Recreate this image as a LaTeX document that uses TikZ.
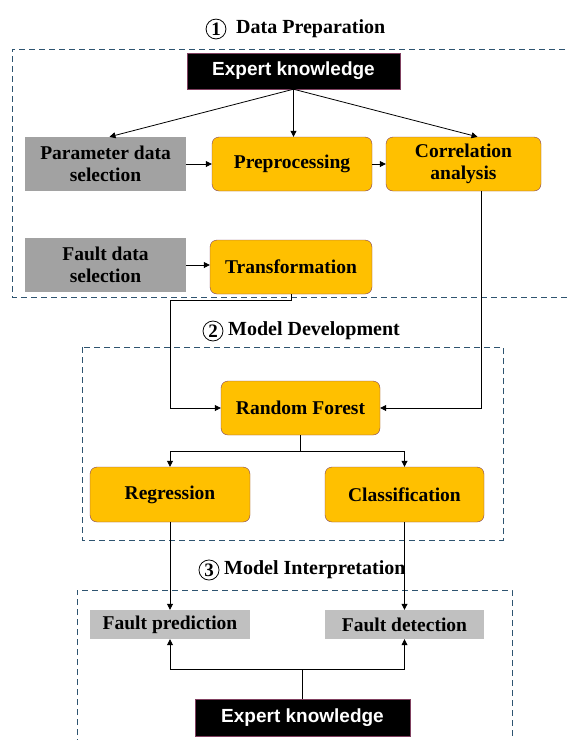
\documentclass[tikz,border=0pt]{standalone}
\usepackage{fontspec}
\setmainfont{Liberation Serif}
\setsansfont{Liberation Sans}
\usepackage{xcolor}
\usepackage{tikz}
\usetikzlibrary{arrows.meta}

\definecolor{boxorange}{RGB}{255,192,0}
\definecolor{boxedge}{RGB}{128,64,96}
\definecolor{selgray}{RGB}{162,162,162}
\definecolor{outgray}{RGB}{192,192,192}
\definecolor{framecol}{RGB}{46,84,112}

\tikzset{
  procbox/.style={draw=boxedge, fill=boxorange, rounded corners=7pt, inner sep=0pt, align=center, font=\fontsize{19.5}{22}\selectfont\bfseries},
  selbox/.style={fill=selgray, inner sep=0pt, align=center, font=\fontsize{19.5}{22}\selectfont\bfseries},
  outbox/.style={fill=outgray, inner sep=0pt, align=center, font=\fontsize{19.5}{22}\selectfont\bfseries},
  expbox/.style={draw=boxedge, fill=black, text=white, inner sep=0pt, font=\sffamily\fontsize{19}{22}\selectfont\bfseries},
  stagenum/.style={circle, draw, thick, inner sep=1.5pt, font=\fontsize{19}{19}\selectfont\bfseries},
  stagename/.style={anchor=west, inner sep=0pt, font=\fontsize{20}{22}\selectfont\bfseries},
  frame/.style={draw=framecol, thick, dashed, dash pattern=on 6pt off 4pt},
  arr/.style={-{Triangle[length=6pt, width=6pt]}, thick}
}

\begin{document}
\begin{tikzpicture}[x=1pt, y=-1pt]
  \useasboundingbox (0,0) rectangle (569,740);

  % 1. DATA PREPARATION
  \node[stagenum] (num1) at (216,29) {1};
  \node[stagename] (title1) at (236,29) {Data Preparation};
  \draw[frame] (575,49) -- (12,49) -- (12,297) -- (575,297);

  \node[expbox, minimum width=213, minimum height=36] (expA) at (293.5,71) {Expert knowledge};
  \node[selbox, minimum width=161, minimum height=54] (param) at (105.5,164) {Parameter data\\selection};
  \node[procbox, minimum width=160, minimum height=54] (prep) at (292,164) {Preprocessing};
  \node[procbox, minimum width=155, minimum height=54] (corr) at (463.5,164) {Correlation\\analysis};
  \node[selbox, minimum width=161, minimum height=54] (fault) at (105.5,265) {Fault data\\selection};
  \node[procbox, minimum width=162, minimum height=54] (trans) at (291,267) {Transformation};

  \draw[arr] (expA.south) -- ([xshift=4]param.north);
  \draw[arr] (expA.south) -- (expA.south |- prep.north);
  \draw[arr] (expA.south) -- ([xshift=14]corr.north);
  \draw[arr] (param) -- (prep);
  \draw[arr] (prep) -- (corr);
  \draw[arr] (fault.east) -- (fault.east -| trans.west);

  % 2. MODEL DEVELOPMENT
  \node[stagenum] (num2) at (213,331) {2};
  \node[stagename] (title2) at (228,331) {Model Development};
  \draw[frame] (82,347) rectangle (503,540);

  \node[procbox, minimum width=159, minimum height=54] (rf) at (300.5,408) {Random Forest};
  \node[procbox, minimum width=160, minimum height=55] (reg) at (170,494.5) {Regression};
  \node[procbox, minimum width=159, minimum height=55] (cls) at (404.5,494.5) {Classification};

  \coordinate (tbend) at (170,300);
  \draw[arr] (trans.south) -- (trans.south |- tbend) -- (tbend) |- (rf.west);
  \draw[arr] ([xshift=18]corr.south) |- (rf.east);

  \coordinate (split) at (300.5,451);
  \draw[arr] (rf.south) -- (split) -| (reg.north);
  \draw[arr] (split) -| (cls.north);

  % 3. MODEL INTERPRETATION
  \node[stagenum] (num3) at (209,570) {3};
  \node[stagename] (title3) at (224,570) {Model Interpretation};
  \draw[frame] (77,745) -- (77,590) -- (512,590) -- (512,745);

  \node[outbox, minimum width=160, minimum height=29] (pred) at (170,624.5) {Fault prediction};
  \node[outbox, minimum width=159, minimum height=29] (det) at (404.5,624.5) {Fault detection};
  \node[expbox, minimum width=215, minimum height=37] (expB) at (302.5,717.5) {Expert knowledge};

  \draw[arr] (reg.south) -- (pred.north);
  \draw[arr] (cls.south) -- (det.north);

  \coordinate (join) at (302.5,669);
  \draw[thick] (expB.north) -- (join);
  \draw[arr] (join) -| (pred.south);
  \draw[arr] (join) -| (det.south);
\end{tikzpicture}
\end{document}
